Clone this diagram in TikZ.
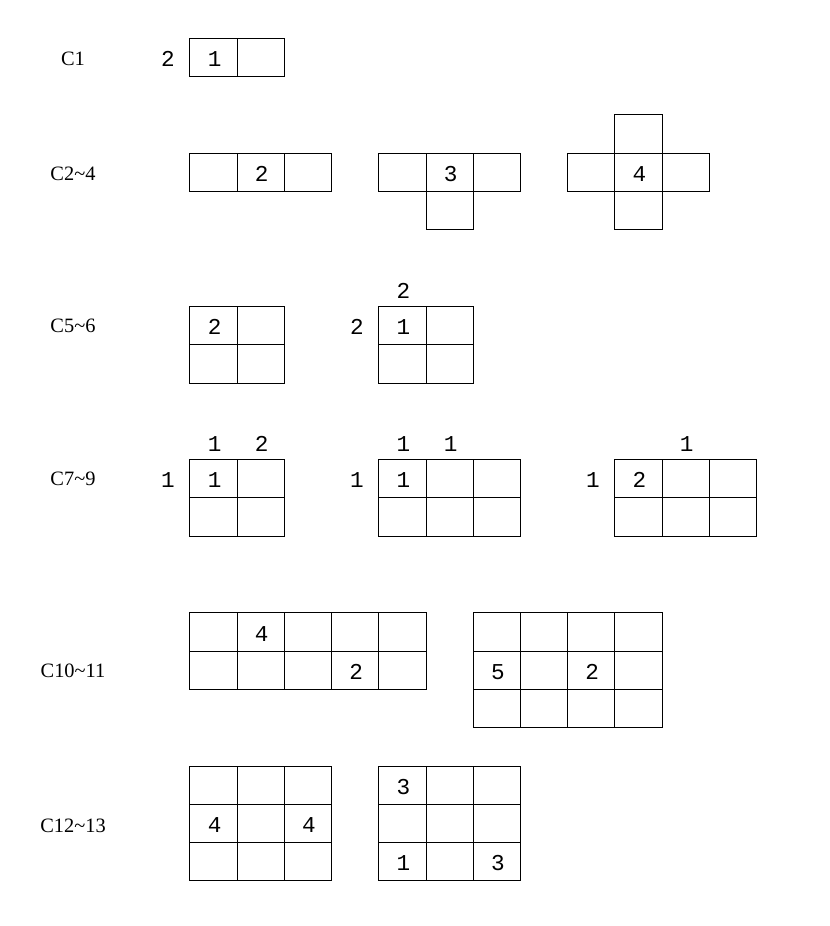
\documentclass[tikz,border=0pt]{standalone}
\usepackage{fontspec}
\setmainfont{Liberation Serif}
\newfontfamily\digitfont{Liberation Mono}
\begin{document}
\begin{tikzpicture}[x=35.4pt,y=-28.725pt,
  cell/.style={draw=black,line width=0.75pt},
  num/.style={font=\digitfont\fontsize{17}{17}\selectfont,inner sep=0pt,yshift=-1.2pt,xshift=0.75pt},
  lbl/.style={font=\fontsize{15.3}{15.3}\selectfont,inner sep=0pt}]
\useasboundingbox (-142.5pt,28.725pt) rectangle (480pt,-665.775pt);

% ---- labels
\node[lbl] (l1)  at (-2.479,0.54)  {C1};
\node[lbl] (l2)  at (-2.479,3.54)  {C2\textasciitilde4};
\node[lbl] (l3)  at (-2.479,7.50)  {C5\textasciitilde6};
\node[lbl] (l4)  at (-2.479,11.50) {C7\textasciitilde9};
\node[lbl] (l5)  at (-2.479,16.52) {C10\textasciitilde11};
\node[lbl] (l6)  at (-2.479,20.55) {C12\textasciitilde13};

% ---- C1
\foreach \i in {0,1} \draw[cell] (\i,0) rectangle ++(1,1);
\node[num] (c1a) at (0.5,0.5) {1};
\node[num] (c1l) at (-0.487,0.5) {2};

% ---- C2~4
\foreach \i in {0,1,2} \draw[cell] (\i,3) rectangle ++(1,1);
\node[num] (c2a) at (1.5,3.5) {2};
\foreach \i/\j in {4/3,5/3,6/3,5/4} \draw[cell] (\i,\j) rectangle ++(1,1);
\node[num] (c3a) at (5.5,3.5) {3};
\foreach \i/\j in {8/3,9/3,10/3,9/2,9/4} \draw[cell] (\i,\j) rectangle ++(1,1);
\node[num] (c4a) at (9.5,3.5) {4};

% ---- C5~6
\foreach \i in {0,1} \foreach \j in {7,8} \draw[cell] (\i,\j) rectangle ++(1,1);
\node[num] (c5a) at (0.5,7.5) {2};
\foreach \i in {4,5} \foreach \j in {7,8} \draw[cell] (\i,\j) rectangle ++(1,1);
\node[num] (c6a) at (4.5,7.5) {1};
\node[num] (c6t) at (4.5,6.55) {2};
\node[num] (c6l) at (3.513,7.5) {2};

% ---- C7~9
\foreach \i in {0,1} \foreach \j in {11,12} \draw[cell] (\i,\j) rectangle ++(1,1);
\node[num] (c7a) at (0.5,11.5) {1};
\node[num] (c7t1) at (0.5,10.55) {1};
\node[num] (c7t2) at (1.5,10.55) {2};
\node[num] (c7l) at (-0.487,11.5) {1};
\foreach \i in {4,5,6} \foreach \j in {11,12} \draw[cell] (\i,\j) rectangle ++(1,1);
\node[num] (c8a) at (4.5,11.5) {1};
\node[num] (c8t1) at (4.5,10.55) {1};
\node[num] (c8t2) at (5.5,10.55) {1};
\node[num] (c8l) at (3.513,11.5) {1};
\foreach \i in {9,10,11} \foreach \j in {11,12} \draw[cell] (\i,\j) rectangle ++(1,1);
\node[num] (c9a) at (9.5,11.5) {2};
\node[num] (c9t) at (10.5,10.55) {1};
\node[num] (c9l) at (8.513,11.5) {1};

% ---- C10~11
\foreach \i in {0,...,4} \foreach \j in {15,16} \draw[cell] (\i,\j) rectangle ++(1,1);
\node[num] (c10a) at (1.5,15.5) {4};
\node[num] (c10b) at (3.5,16.5) {2};
\foreach \i in {6,...,9} \foreach \j in {15,16,17} \draw[cell] (\i,\j) rectangle ++(1,1);
\node[num] (c11a) at (6.5,16.5) {5};
\node[num] (c11b) at (8.5,16.5) {2};

% ---- C12~13
\foreach \i in {0,1,2} \foreach \j in {19,20,21} \draw[cell] (\i,\j) rectangle ++(1,1);
\node[num] (c12a) at (0.5,20.5) {4};
\node[num] (c12b) at (2.5,20.5) {4};
\foreach \i in {4,5,6} \foreach \j in {19,20,21} \draw[cell] (\i,\j) rectangle ++(1,1);
\node[num] (c13a) at (4.5,19.5) {3};
\node[num] (c13b) at (4.5,21.5) {1};
\node[num] (c13c) at (6.5,21.5) {3};
\end{tikzpicture}
\end{document}
